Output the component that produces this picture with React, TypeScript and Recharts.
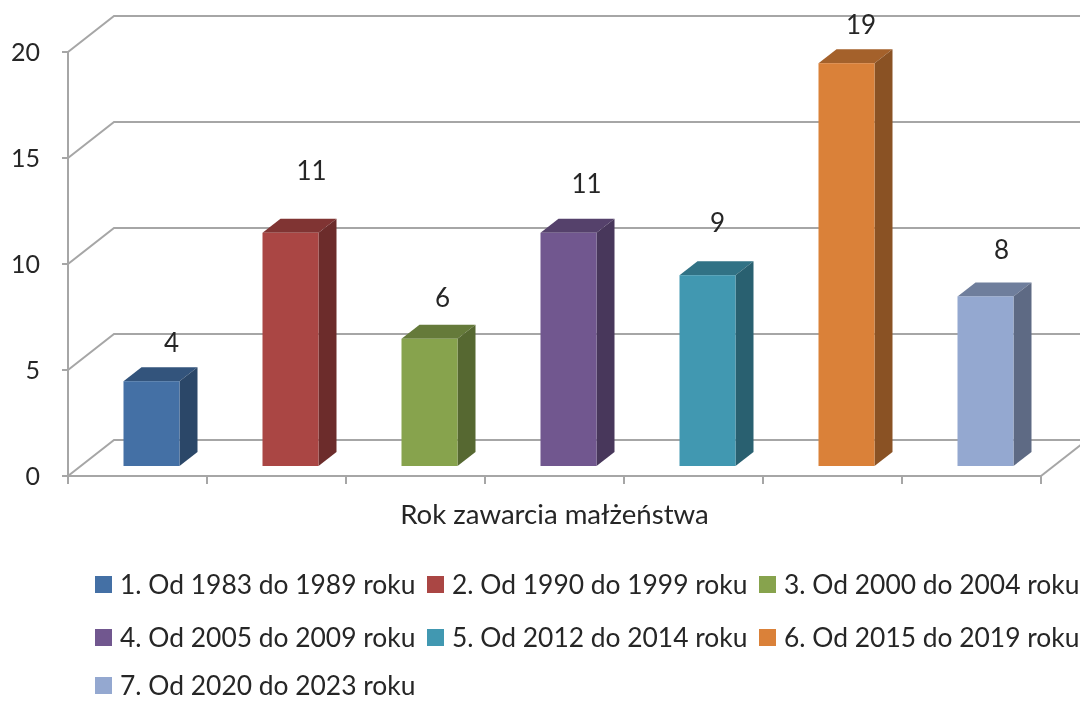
import React from "react";
import {
  BarChart,
  Bar,
  Cell,
  XAxis,
  YAxis,
  CartesianGrid,
  LabelList,
  Legend,
} from "recharts";

const CATEGORIES = [
  "1. Od 1983 do 1989 roku",
  "2. Od 1990 do 1999 roku",
  "3. Od 2000 do 2004 roku",
  "4. Od 2005 do 2009 roku",
  "5. Od 2012 do 2014 roku",
  "6. Od 2015 do 2019 roku",
  "7. Od 2020 do 2023 roku",
];
const VALUES = [4, 11, 6, 11, 9, 19, 8];
const Y_TICKS = [0, 5, 10, 15, 20];
const AXIS_TITLE = "Rok zawarcia małżeństwa";

const FRONT = ["#4470a5", "#aa4644", "#87a34d", "#71578f", "#4198b1", "#da8139", "#94a8d0"];
const TOP = ["#33547c", "#803433", "#657a3a", "#55416b", "#317285", "#a4612b", "#6f7e9c"];
const SIDE = ["#2b4768", "#6c2c2b", "#566831", "#48375b", "#296070", "#8a5224", "#5e6a84"];

// nudges of the value labels, they sit unevenly in the source picture
const LABEL_DX = [20, 21, 13, 18, 10, 14.5, 16];
const LABEL_LIFT = [25, 49, 28, 36, 39, 25, 33];

const data = CATEGORIES.map((name, i) => ({ name, value: VALUES[i] }));

const FONT = "Lato, sans-serif";
const TEXT = "#262626";
const LINE = "#a6a6a6";
const WALL_DX = 46;
const WALL_DY = 36;
const BAR_DX = 18;
const BAR_DY = 14;
const BAR_SHIFT = 13.5;
const BAND = 139;

function Bar3D(props: any) {
  const { x, y, width, height, index } = props;
  const left = x + BAR_SHIFT;
  const right = left + width;
  const top = y - 10;
  const bottom = y + height - 10;
  return (
    <g>
      <path
        d={`M${left},${top}L${left + BAR_DX},${top - BAR_DY}L${right + BAR_DX},${top - BAR_DY}L${right},${top}Z`}
        fill={TOP[index]}
      />
      <path
        d={`M${right},${top}L${right + BAR_DX},${top - BAR_DY}L${right + BAR_DX},${bottom - BAR_DY}L${right},${bottom}Z`}
        fill={SIDE[index]}
      />
      <rect x={left} y={top} width={width} height={height} fill={FRONT[index]} />
    </g>
  );
}

function WallLine(props: any) {
  const { x1, y1, x2, y2, index } = props;
  const isFloor = y1 > 470;
  return (
    <g key={`wall-${index}`} fill="none" stroke={LINE} strokeWidth={2}>
      <polyline points={`${x1},${y1} ${x1 + WALL_DX},${y1 - WALL_DY} 1080,${y2 - WALL_DY}`} />
      {isFloor && <line x1={x2} y1={y2} x2={x2 + WALL_DX} y2={y2 - WALL_DY} />}
    </g>
  );
}

function BandTick(props: any) {
  const { x, y, index } = props;
  const start = x - BAND / 2;
  return (
    <g stroke={LINE} strokeWidth={2}>
      <line x1={start} y1={y} x2={start} y2={y + 8} />
      {index === VALUES.length - 1 && <line x1={x + BAND / 2} y1={y} x2={x + BAND / 2} y2={y + 8} />}
    </g>
  );
}

function ValueLabel(props: any) {
  const { x, y, width, value, index } = props;
  return (
    <text
      x={x + BAR_SHIFT + width / 2 + LABEL_DX[index]}
      y={y - 10 - BAR_DY - LABEL_LIFT[index]}
      textAnchor="middle"
      dominantBaseline="central"
      fontFamily={FONT}
      fontSize={26}
      fill={TEXT}
    >
      {value}
    </text>
  );
}

function LegendGrid() {
  return (
    <div
      style={{
        height: 143,
        paddingLeft: 95,
        display: "grid",
        gridTemplateColumns: "332px 332px 332px",
        gridTemplateRows: "53px 53px 37px",
        fontFamily: FONT,
        fontSize: 26.4,
        lineHeight: 1,
        color: TEXT,
        whiteSpace: "nowrap",
      }}
    >
      {CATEGORIES.map((name, i) => (
        // last row sits on the page bottom so the text is not cut off
        <div
          key={name}
          style={{
            display: "flex",
            alignItems: i === 6 ? "flex-end" : "center",
            paddingBottom: i === 6 ? 3 : 0,
            boxSizing: "border-box",
          }}
        >
          <span style={{ width: 17, height: 17, background: FRONT[i], marginRight: 8, marginBottom: i === 6 ? 4 : 0, flex: "none" }} />
          {name}
        </div>
      ))}
    </div>
  );
}

export default function App() {
  return (
    <div
      style={{
        position: "absolute",
        left: 0,
        top: 0,
        width: 1080,
        height: 701,
        overflow: "hidden",
        background: "#fff",
        filter: "blur(0.5px)",
      }}
    >
      <BarChart
        width={1080}
        height={701}
        data={data}
        barSize={56}
        margin={{ top: 52, right: 39, bottom: 0, left: 0 }}
      >
        <CartesianGrid horizontal={WallLine} vertical={false} />
        <XAxis
          dataKey="name"
          height={82}
          axisLine={{ stroke: LINE, strokeWidth: 2 }}
          tickLine={false}
          tickSize={0}
          tickMargin={0}
          tick={BandTick}
          interval={0}
          label={{
            value: AXIS_TITLE,
            position: "insideTop",
            offset: 28,
            fontFamily: FONT,
            fontSize: 27.6,
            fill: TEXT,
          }}
        />
        <YAxis
          width={68}
          domain={[0, 20]}
          ticks={Y_TICKS}
          tickSize={6}
          tickMargin={22}
          axisLine={{ stroke: LINE, strokeWidth: 2 }}
          tickLine={{ stroke: LINE, strokeWidth: 2 }}
          tick={{ fontFamily: FONT, fontSize: 25, fill: TEXT }}
        />
        <Bar dataKey="value" isAnimationActive={false} shape={Bar3D}>
          {VALUES.map((_, i) => (
            <Cell key={i} fill={FRONT[i]} />
          ))}
          <LabelList dataKey="value" content={ValueLabel} />
        </Bar>
        <Legend
          verticalAlign="bottom"
          content={LegendGrid}
          wrapperStyle={{ left: 0, bottom: 0, width: 1080, margin: 0 }}
        />
      </BarChart>
    </div>
  );
}
